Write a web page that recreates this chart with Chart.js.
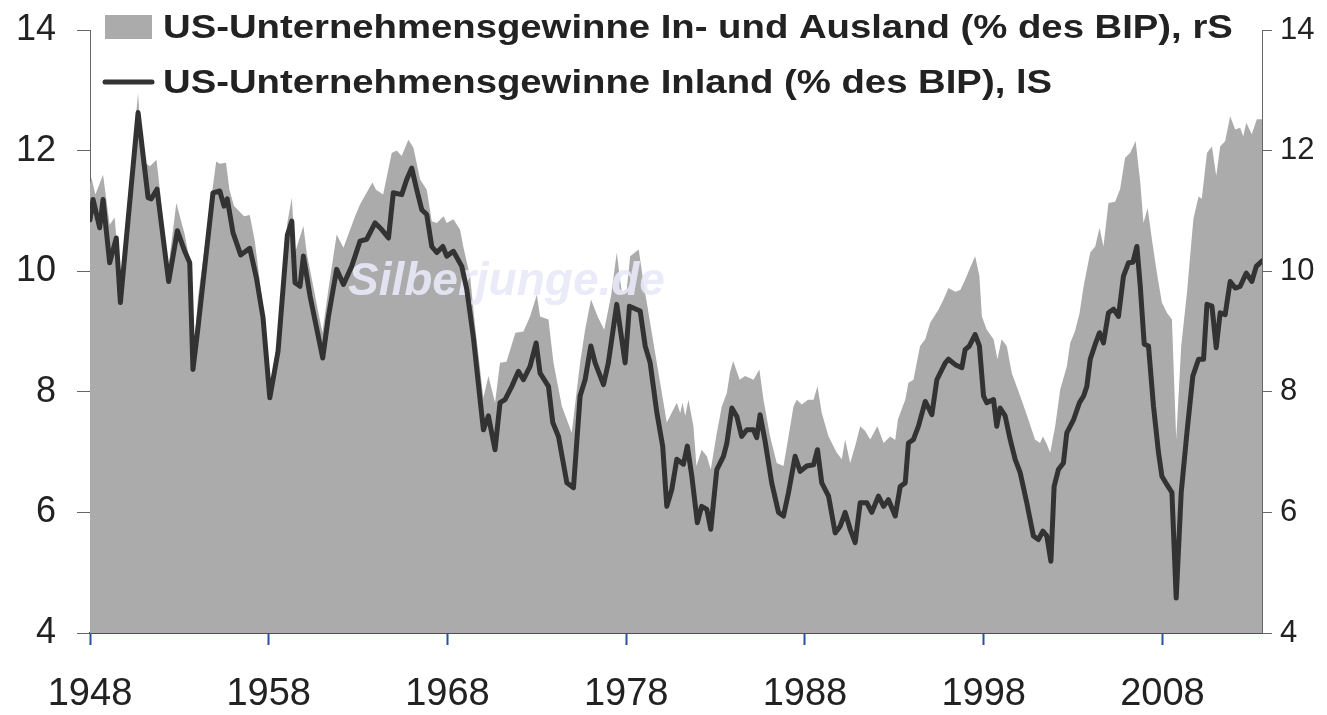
<!DOCTYPE html>
<html><head><meta charset="utf-8">
<script src="https://cdn.jsdelivr.net/npm/chart.js@4.4.1/dist/chart.umd.min.js"></script>
<style>html,body{margin:0;padding:0;background:#fff;overflow:hidden}canvas{display:block}</style>
</head><body>
<canvas id="c" width="1327" height="715"></canvas>
<script>
// ---- data ----
const xTickLabels = ['1948', '1958', '1968', '1978', '1988', '1998', '2008'];
const yTickLabels = ['4', '6', '8', '10', '12', '14'];
const seriesNames = [
  'US-Unternehmensgewinne In- und Ausland (% des BIP), rS',
  'US-Unternehmensgewinne Inland (% des BIP), lS'
];
const watermarkText = 'Silberjunge.de';

// Total (domestic + foreign) profits, % of GDP (right scale) - grey area
const totalYears = [
  1948.00, 1948.08, 1948.30, 1948.73, 1948.90, 1949.10, 1949.38, 1949.70, 1950.69, 1950.80,
  1950.97, 1951.35, 1951.72, 1951.90, 1952.36, 1952.83, 1953.30, 1953.58, 1953.76, 1954.04,
  1955.06, 1955.26, 1955.61, 1955.80, 1956.06, 1956.62, 1956.94, 1957.22, 1957.60, 1958.06,
  1958.52, 1959.04, 1959.29, 1959.47, 1959.94, 1960.12, 1961.00, 1961.34, 1961.80, 1962.18,
  1962.83, 1963.11, 1963.80, 1964.00, 1964.40, 1964.88, 1965.16, 1965.44, 1965.81, 1966.09,
  1966.47, 1966.84, 1967.12, 1967.40, 1967.78, 1967.96, 1968.33, 1968.70, 1968.89, 1969.27,
  1969.54, 1970.01, 1970.29, 1970.66, 1970.94, 1971.30, 1971.80, 1972.25, 1972.62, 1973.00,
  1973.18, 1973.65, 1973.93, 1974.40, 1974.95, 1975.42, 1975.70, 1976.03, 1976.40, 1976.77,
  1977.15, 1977.47, 1977.75, 1978.03, 1978.22, 1978.70, 1978.97, 1979.34, 1979.71, 1980.27,
  1980.83, 1981.02, 1981.15, 1981.30, 1981.48, 1981.76, 1981.93, 1982.22, 1982.51, 1982.73,
  1983.07, 1983.35, 1983.63, 1983.80, 1983.98, 1984.35, 1984.65, 1985.12, 1985.45, 1985.68,
  1986.05, 1986.42, 1986.80, 1987.08, 1987.36, 1987.54, 1987.82, 1988.17, 1988.48, 1988.70,
  1988.94, 1989.32, 1989.78, 1990.06, 1990.25, 1990.53, 1990.81, 1991.09, 1991.37, 1991.65,
  1992.05, 1992.40, 1992.77, 1993.05, 1993.20, 1993.61, 1993.79, 1994.07, 1994.44, 1994.73,
  1995.00, 1995.48, 1995.75, 1996.03, 1996.41, 1996.69, 1996.96, 1997.27, 1997.52, 1997.76,
  1997.90, 1998.17, 1998.55, 1998.77, 1999.00, 1999.29, 1999.57, 2000.04, 2000.50, 2000.87,
  2001.15, 2001.31, 2001.50, 2001.72, 2002.00, 2002.28, 2002.65, 2002.84, 2003.10, 2003.36,
  2003.59, 2003.96, 2004.24, 2004.48, 2004.70, 2004.98, 2005.35, 2005.63, 2005.91, 2006.19,
  2006.50, 2006.76, 2006.94, 2007.17, 2007.41, 2007.69, 2007.97, 2008.25, 2008.53, 2008.77,
  2009.05, 2009.37, 2009.73, 2010.02, 2010.20, 2010.49, 2010.77, 2011.01, 2011.23, 2011.51,
  2011.79, 2012.07, 2012.35, 2012.52, 2012.69, 2013.00, 2013.28, 2013.57
];
const totalValues = [
  11.44, 11.55, 11.27, 11.60, 11.22, 10.77, 10.89, 9.75, 12.96, 12.40,
  11.82, 11.74, 11.85, 11.38, 10.00, 11.13, 10.61, 10.17, 8.51, 9.56,
  11.82, 11.78, 11.80, 11.35, 11.08, 10.91, 10.93, 10.50, 9.60, 8.01,
  8.90, 10.80, 11.22, 10.31, 10.75, 10.31, 8.98, 9.70, 10.61, 10.39,
  10.91, 11.11, 11.47, 11.35, 11.27, 11.96, 12.00, 11.91, 12.18, 12.05,
  11.52, 11.35, 10.83, 10.80, 10.91, 10.80, 10.86, 10.69, 10.40, 9.90,
  9.10, 7.90, 8.26, 7.82, 8.48, 8.50, 8.98, 9.00, 9.25, 9.61,
  9.25, 9.20, 8.48, 7.76, 7.32, 8.48, 9.03, 9.53, 9.25, 9.03,
  9.59, 10.31, 9.65, 9.70, 10.25, 10.36, 9.80, 9.14, 8.48, 7.49,
  7.82, 7.65, 7.82, 7.60, 7.87, 7.43, 6.77, 7.04, 6.93, 6.71,
  7.32, 7.76, 7.98, 8.31, 8.51, 8.20, 8.26, 8.20, 8.37, 7.87,
  7.26, 6.82, 6.77, 7.26, 7.76, 7.87, 7.79, 7.87, 7.87, 8.09,
  7.65, 7.26, 6.99, 6.88, 7.21, 6.82, 7.10, 7.43, 7.35, 7.21,
  7.43, 7.15, 7.26, 7.20, 7.54, 7.87, 8.15, 8.20, 8.76, 8.87,
  9.14, 9.37, 9.53, 9.72, 9.66, 9.69, 9.86, 10.08, 10.25, 9.92,
  9.25, 9.03, 8.87, 8.54, 8.87, 8.76, 8.31, 7.93, 7.54, 7.21,
  7.15, 7.26, 7.15, 6.99, 7.43, 8.04, 8.42, 8.81, 9.00, 9.30,
  9.75, 10.31, 10.41, 10.72, 10.41, 11.13, 11.15, 11.36, 11.88, 11.96,
  12.16, 11.47, 10.80, 11.05, 10.53, 9.97, 9.48, 9.31, 9.20, 7.21,
  8.76, 9.64, 10.86, 11.24, 11.20, 11.96, 12.07, 11.58, 12.07, 12.16,
  12.57, 12.35, 12.38, 12.24, 12.46, 12.27, 12.52, 12.52
];

// Domestic profits, % of GDP (left scale) - dark line
const domesticYears = [
  1948.00, 1948.17, 1948.54, 1948.73, 1949.10, 1949.47, 1949.70, 1950.69, 1951.25, 1951.43,
  1951.75, 1952.40, 1952.89, 1953.30, 1953.58, 1953.76, 1954.04, 1954.88, 1955.26, 1955.50,
  1955.68, 1956.00, 1956.43, 1956.94, 1957.31, 1957.68, 1958.06, 1958.52, 1959.04, 1959.29,
  1959.47, 1959.75, 1959.94, 1960.31, 1961.02, 1961.34, 1961.80, 1962.18, 1962.64, 1963.11,
  1963.48, 1963.95, 1964.32, 1964.70, 1964.97, 1965.44, 1965.72, 1966.00, 1966.28, 1966.56,
  1966.84, 1967.12, 1967.40, 1967.74, 1967.96, 1968.33, 1968.80, 1969.08, 1969.45, 1969.85,
  1970.01, 1970.29, 1970.66, 1970.94, 1971.22, 1971.60, 1971.97, 1972.25, 1972.62, 1972.96,
  1973.18, 1973.65, 1973.89, 1974.21, 1974.68, 1975.05, 1975.42, 1975.70, 1976.02, 1976.26,
  1976.73, 1977.00, 1977.47, 1977.94, 1978.18, 1978.78, 1979.06, 1979.34, 1979.71, 1980.04,
  1980.27, 1980.55, 1980.83, 1981.20, 1981.42, 1981.67, 1981.98, 1982.22, 1982.51, 1982.73,
  1983.07, 1983.44, 1983.63, 1983.91, 1984.19, 1984.46, 1984.75, 1985.12, 1985.30, 1985.49,
  1985.77, 1986.14, 1986.52, 1986.80, 1987.08, 1987.45, 1987.73, 1988.10, 1988.48, 1988.70,
  1988.94, 1989.32, 1989.69, 1989.97, 1990.25, 1990.53, 1990.81, 1991.09, 1991.46, 1991.74,
  1992.11, 1992.40, 1992.67, 1993.05, 1993.33, 1993.61, 1993.79, 1994.07, 1994.35, 1994.73,
  1995.10, 1995.38, 1995.85, 1996.03, 1996.41, 1996.78, 1996.96, 1997.20, 1997.52, 1997.76,
  1997.99, 1998.17, 1998.55, 1998.73, 1998.92, 1999.20, 1999.48, 1999.76, 2000.04, 2000.41,
  2000.78, 2001.06, 2001.31, 2001.53, 2001.76, 2001.94, 2002.18, 2002.46, 2002.65, 2003.03,
  2003.36, 2003.59, 2003.77, 2003.96, 2004.24, 2004.48, 2004.70, 2004.98, 2005.26, 2005.54,
  2005.82, 2006.10, 2006.35, 2006.57, 2006.76, 2006.98, 2007.22, 2007.50, 2007.78, 2007.97,
  2008.25, 2008.53, 2008.77, 2009.05, 2009.37, 2009.70, 2010.02, 2010.30, 2010.49, 2010.77,
  2011.01, 2011.23, 2011.51, 2011.79, 2012.07, 2012.35, 2012.69, 2013.00, 2013.25, 2013.57
];
const domesticValues = [
  10.85, 11.19, 10.72, 11.19, 10.14, 10.55, 9.48, 12.63, 11.22, 11.20,
  11.36, 9.83, 10.67, 10.33, 10.14, 8.37, 9.06, 11.30, 11.33, 11.08,
  11.20, 10.64, 10.27, 10.38, 9.89, 9.23, 7.90, 8.67, 10.60, 10.83,
  9.81, 9.75, 10.25, 9.59, 8.56, 9.25, 10.03, 9.78, 10.08, 10.50,
  10.53, 10.80, 10.69, 10.55, 11.30, 11.27, 11.52, 11.71, 11.35, 11.02,
  10.94, 10.41, 10.31, 10.41, 10.25, 10.33, 10.08, 9.70, 8.90, 7.80,
  7.37, 7.60, 7.04, 7.82, 7.87, 8.09, 8.34, 8.20, 8.42, 8.81,
  8.31, 8.09, 7.49, 7.26, 6.49, 6.41, 7.93, 8.20, 8.76, 8.48,
  8.12, 8.48, 9.45, 8.48, 9.42, 9.34, 8.76, 8.48, 7.66, 7.10,
  6.10, 6.38, 6.88, 6.80, 7.10, 6.60, 5.83, 6.10, 6.05, 5.72,
  6.71, 6.93, 7.15, 7.73, 7.59, 7.26, 7.37, 7.37, 7.24, 7.62,
  7.18, 6.49, 6.00, 5.94, 6.33, 6.93, 6.68, 6.77, 6.79, 7.04,
  6.49, 6.27, 5.66, 5.77, 6.00, 5.72, 5.50, 6.16, 6.16, 6.00,
  6.27, 6.10, 6.21, 5.94, 6.43, 6.49, 7.15, 7.21, 7.43, 7.84,
  7.62, 8.20, 8.48, 8.54, 8.45, 8.40, 8.70, 8.76, 8.95, 8.76,
  7.93, 7.82, 7.87, 7.43, 7.73, 7.60, 7.21, 6.88, 6.66, 6.16,
  5.61, 5.55, 5.69, 5.61, 5.19, 6.43, 6.71, 6.82, 7.32, 7.54,
  7.82, 7.93, 8.09, 8.54, 8.79, 8.98, 8.81, 9.31, 9.37, 9.25,
  9.92, 10.14, 10.15, 10.41, 9.75, 8.79, 8.76, 7.76, 6.99, 6.60,
  6.46, 6.33, 4.58, 6.33, 7.32, 8.26, 8.54, 8.54, 9.45, 9.42,
  8.73, 9.31, 9.28, 9.83, 9.72, 9.75, 9.97, 9.83, 10.08, 10.17
];

// ---- styling ----
const AREA_COLOR = '#ababab';
const LINE_COLOR = '#333333';
const TEXT_COLOR = '#222222';
const AXIS_BLUE = '#2d4f9e';
const AXIS_GREY = '#666666';

const totalData = totalYears.map((x, i) => ({ x: x, y: totalValues[i] }));
const domesticData = domesticYears.map((x, i) => ({ x: x, y: domesticValues[i] }));

const overlayPlugin = {
  id: 'overlay',
  afterDatasetDraw(chart, args) {
    if (args.index !== 0) return;
    const ctx = chart.ctx, a = chart.chartArea;
    ctx.save();
    ctx.font = 'italic bold 46px "Liberation Sans", Arial, sans-serif';
    ctx.fillStyle = 'rgba(232,232,248,0.9)';
    ctx.textBaseline = 'alphabetic';
    ctx.fillText(watermarkText, a.left + 258, a.top + 265);
    ctx.restore();
  },
  afterDraw(chart) {
    const ctx = chart.ctx, a = chart.chartArea;
    ctx.save();
    const sx = 1.16;
    ctx.font = 'bold 33px "Liberation Sans", Arial, sans-serif';
    ctx.textBaseline = 'alphabetic';
    // row 1: area symbol
    ctx.fillStyle = AREA_COLOR;
    ctx.fillRect(a.left + 15, a.top - 15, 47, 24);
    ctx.fillStyle = TEXT_COLOR;
    ctx.save();
    ctx.translate(a.left + 73, a.top + 8);
    ctx.scale(sx, 1);
    ctx.fillText(seriesNames[0], 0, 0);
    ctx.restore();
    // row 2: line symbol
    ctx.strokeStyle = LINE_COLOR;
    ctx.lineWidth = 5;
    ctx.lineCap = 'round';
    ctx.beginPath();
    ctx.moveTo(a.left + 15, a.top + 52);
    ctx.lineTo(a.left + 62, a.top + 52);
    ctx.stroke();
    ctx.save();
    ctx.translate(a.left + 73, a.top + 63);
    ctx.scale(sx, 1);
    ctx.fillText(seriesNames[1], 0, 0);
    ctx.restore();
    ctx.restore();
  }
};

const yTickVals = yTickLabels.map(Number);
const noPadV = (s, w) => { s.width = w; s.paddingTop = 0; s.paddingBottom = 0; };

new Chart(document.getElementById('c'), {
  type: 'line',
  data: {
    datasets: [
      {
        label: seriesNames[0],
        data: totalData,
        yAxisID: 'yR',
        order: 2,
        fill: 'start',
        backgroundColor: AREA_COLOR,
        borderWidth: 0,
        pointRadius: 0,
        tension: 0
      },
      {
        label: seriesNames[1],
        data: domesticData,
        yAxisID: 'yL',
        order: 1,
        fill: false,
        borderColor: LINE_COLOR,
        borderWidth: 5,
        borderJoinStyle: 'round',
        borderCapStyle: 'round',
        pointRadius: 0,
        tension: 0
      }
    ]
  },
  options: {
    responsive: false,
    animation: false,
    devicePixelRatio: 1,
    layout: { padding: { top: 30, left: 0, right: 0, bottom: 0 } },
    plugins: { legend: { display: false }, tooltip: { enabled: false } },
    scales: {
      x: {
        type: 'linear',
        z: 1,
        min: Number(xTickLabels[0]),
        max: totalYears[totalYears.length - 1],
        afterBuildTicks: (s) => { s.ticks = xTickLabels.map(v => ({ value: Number(v) })); },
        afterFit: (s) => { s.height = 82; s.paddingLeft = 0; s.paddingRight = 0; },
        border: { display: true, color: AXIS_BLUE, width: 2 },
        grid: { display: true, drawOnChartArea: false, drawTicks: true, tickLength: 12, tickColor: AXIS_BLUE, tickWidth: 2 },
        ticks: {
          autoSkip: false, maxRotation: 0, padding: 27, color: TEXT_COLOR,
          font: { family: '"Liberation Sans", Arial, sans-serif', size: 38 },
          callback: (v) => String(v)
        }
      },
      yL: {
        type: 'linear',
        position: 'left',
        z: 1,
        min: yTickVals[0],
        max: yTickVals[yTickVals.length - 1],
        afterBuildTicks: (s) => { s.ticks = yTickVals.map(v => ({ value: v })); },
        afterFit: (s) => noPadV(s, 90),
        border: { display: true, color: AXIS_GREY, width: 1 },
        grid: { display: true, drawOnChartArea: false, drawTicks: true, tickLength: 13, tickColor: AXIS_GREY, tickWidth: 1 },
        ticks: {
          padding: 21, color: TEXT_COLOR,
          font: { family: '"Liberation Sans", Arial, sans-serif', size: 36 },
          callback: (v) => String(v)
        }
      },
      yR: {
        type: 'linear',
        position: 'right',
        z: 1,
        min: yTickVals[0],
        max: yTickVals[yTickVals.length - 1],
        afterBuildTicks: (s) => { s.ticks = yTickVals.map(v => ({ value: v })); },
        afterFit: (s) => noPadV(s, 65),
        border: { display: true, color: AXIS_GREY, width: 1 },
        grid: { display: true, drawOnChartArea: false, drawTicks: true, tickLength: 10, tickColor: AXIS_GREY, tickWidth: 1 },
        ticks: {
          padding: 8, color: TEXT_COLOR,
          font: { family: '"Liberation Sans", Arial, sans-serif', size: 31 },
          callback: (v) => String(v)
        }
      }
    }
  },
  plugins: [overlayPlugin]
});
</script>
</body></html>
